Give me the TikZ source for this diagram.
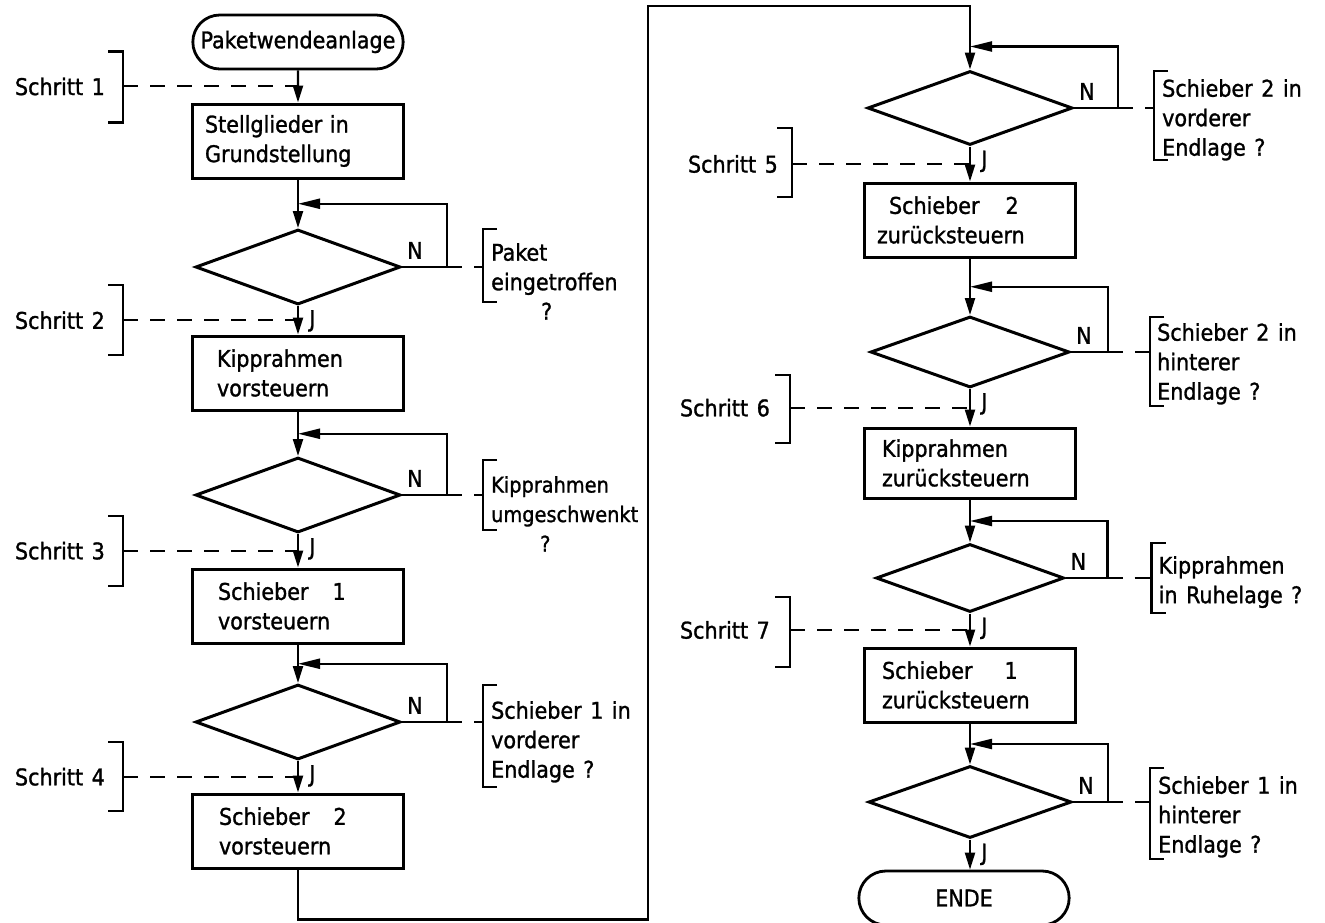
\documentclass[tikz,border=0pt]{standalone}
\usepackage{fontspec}
\setmainfont{DejaVu Sans Condensed}[WordSpace=1.3, FakeBold=1.2]
\usetikzlibrary{arrows.meta, positioning, calc, shapes.geometric, shapes.misc}

\begin{document}
\begin{tikzpicture}[
    x=1pt, y=-1pt,
    font=\fontsize{23}{29.5}\selectfont,
    ablauf/.style={draw, line width=3pt, minimum width=211pt,
                   minimum height=74pt, text width=186pt, align=left},
    grenze/.style={draw, rounded rectangle, line width=2.8pt,
                   minimum width=217pt, minimum height=54pt},
    raute/.style={draw, diamond, line width=3pt, inner sep=0pt,
                  minimum width=205pt, minimum height=75pt},
    pfeil/.style={-{Triangle[length=17pt, width=10pt]}, line width=2.2pt},
    rueck/.style={-{Triangle[length=22pt, width=10pt]}, line width=2.2pt},
    strich/.style={line width=2pt, dash pattern=on 15pt off 12pt},
    klammer/.style={line width=2.2pt},
    frage/.style={anchor=north west, inner sep=0pt, align=left},
    marke/.style={inner sep=0pt}
  ]
    \useasboundingbox (0,0) rectangle (1325,922);

    % linke Spalte
    \node[grenze] (anfang) at (298,42) {Paketwendeanlage};
    \node[ablauf] (stell) at (298,141) {Stellglieder in\\Grundstellung};
    \node[raute] (paket) at (298,267) {};
    \node[ablauf, text width=162pt] (kvor) at (298,373) {Kipprahmen\\vorsteuern};
    \node[raute] (kipp) at (298,495) {};
    \node[ablauf, text width=160pt] (s1vor) at (298,606) {Schieber\hspace{24pt}1\\vorsteuern};
    \node[raute] (s1vorn) at (298,722) {};
    \node[ablauf, text width=158pt] (s2vor) at (298,831) {Schieber\hspace{24pt}2\\vorsteuern};

    % rechte Spalte
    \node[raute, minimum height=74pt] (s2vorn) at (970,108) {};
    \node[ablauf] (s2zur) at (970,220) {\hspace*{12pt}Schieber\hspace{26pt}2\\zurücksteuern};
    \node[raute, minimum width=199pt, minimum height=71pt] (s2hint) at (970,352) {};
    \node[ablauf, text width=176pt, minimum height=70pt] (kzur) at (970,463) {Kipprahmen\\zurücksteuern};
    \node[raute, minimum width=188pt, minimum height=68pt] (ruhe) at (970,578) {};
    \node[ablauf, text width=176pt] (s1zur) at (970,685) {Schieber\hspace{32pt}1\\zurücksteuern};
    \node[raute, minimum width=203pt, minimum height=72pt] (s1hint) at (970,802) {};
    \node[grenze] (ende) at (964,898) {ENDE};

    % Hauptfluss
    \draw[pfeil] (anfang) -- (stell);
    \draw[pfeil] (stell) -- (paket);
    \draw[pfeil] (paket) -- (kvor);
    \draw[pfeil] (kvor) -- (kipp);
    \draw[pfeil] (kipp) -- (s1vor);
    \draw[pfeil] (s1vor) -- (s1vorn);
    \draw[pfeil] (s1vorn) -- (s2vor);
    \coordinate (oben) at (648,6);
    \draw[pfeil] (s2vor.south) -- ++(0,50) -| (oben) -| (s2vorn.north);
    \draw[pfeil] (s2vorn) -- (s2zur);
    \draw[pfeil] (s2zur) -- (s2hint);
    \draw[pfeil] (s2hint) -- (kzur);
    \draw[pfeil] (kzur) -- (ruhe);
    \draw[pfeil] (ruhe) -- (s1zur);
    \draw[pfeil] (s1zur) -- (s1hint);
    \draw[pfeil] (s1hint.south) -- (s1hint.south |- ende.north);

    % Rueckfuehrungen (N)
    \coordinate (k1) at ($(stell.south)!.5!(paket.north)$);
    \coordinate (k2) at ($(kvor.south)!.5!(kipp.north)$);
    \coordinate (k3) at ($(s1vor.south)!.5!(s1vorn.north)$);
    \coordinate (k5) at ($(s2vorn.north)+(0,-23)$);
    \coordinate (k6) at ($(s2zur.south)!.5!(s2hint.north)$);
    \coordinate (k7) at ($(kzur.south)!.5!(ruhe.north)$);
    \coordinate (k8) at ($(s1zur.south)!.5!(s1hint.north)$);
    \draw[rueck] (paket.east) -- ++(45,0) coordinate (e1) |- (k1);
    \draw[rueck] (kipp.east) -- ++(45,0) coordinate (e2) |- (k2);
    \draw[rueck] (s1vorn.east) -- ++(45,0) coordinate (e3) |- (k3);
    \draw[rueck] (s2vorn.east) -- ++(44,0) coordinate (e5) |- (k5);
    \draw[rueck] (s2hint.east) -- ++(37,0) coordinate (e6) |- (k6);
    \draw[rueck] (ruhe.east) -- ++(42,0) coordinate (e7) |- (k7);
    \draw[rueck] (s1hint.east) -- ++(35,0) coordinate (e8) |- (k8);

    % N und J
    \node[marke, above right=8pt and 5pt of paket.east] (n1) {N};
    \node[marke, above right=8pt and 5pt of kipp.east] (n2) {N};
    \node[marke, above right=8pt and 5pt of s1vorn.east] (n3) {N};
    \node[marke, above right=8pt and 5pt of s2vorn.east] (n5) {N};
    \node[marke, above right=8pt and 5pt of s2hint.east] (n6) {N};
    \node[marke, above right=8pt and 5pt of ruhe.east] (n7) {N};
    \node[marke, above right=8pt and 5pt of s1hint.east] (n8) {N};
    \node[marke, below right=4pt and 11pt of paket.south] (j1) {J};
    \node[marke, below right=4pt and 11pt of kipp.south] (j2) {J};
    \node[marke, below right=4pt and 11pt of s1vorn.south] (j3) {J};
    \node[marke, below right=4pt and 11pt of s2vorn.south] (j5) {J};
    \node[marke, below right=4pt and 11pt of s2hint.south] (j6) {J};
    \node[marke, below right=4pt and 11pt of ruhe.south] (j7) {J};
    \node[marke, below right=4pt and 11pt of s1hint.south] (j8) {J};

    % Abfragen
    \draw[strich] (e1) -- ++(36,0) coordinate (q1);
    \draw[strich] (e2) -- ++(36,0) coordinate (q2);
    \draw[strich] (e3) -- ++(36,0) coordinate (q3);
    \draw[strich] (e5) -- ++(36,0) coordinate (q5);
    \draw[strich] (e6) -- ++(42,0) coordinate (q6);
    \draw[strich] (e7) -- ++(44,0) coordinate (q7);
    \draw[strich] (e8) -- ++(42,0) coordinate (q8);
    \draw[klammer] ($(q1)+(14,-38)$) -- ++(-14,0) |- ($(q1)+(14,35)$);
    \draw[klammer] ($(q2)+(14,-35)$) -- ++(-14,0) |- ($(q2)+(14,35)$);
    \draw[klammer] ($(q3)+(14,-37)$) -- ++(-14,0) |- ($(q3)+(14,65)$);
    \draw[klammer] ($(q5)+(14,-37)$) -- ++(-14,0) |- ($(q5)+(14,52)$);
    \draw[klammer] ($(q6)+(14,-35)$) -- ++(-14,0) |- ($(q6)+(14,54)$);
    \draw[klammer] ($(q7)+(14,-35)$) -- ++(-14,0) |- ($(q7)+(14,35)$);
    \draw[klammer] ($(q8)+(14,-34)$) -- ++(-14,0) |- ($(q8)+(14,57)$);
    \node[frage] (f1) at ($(q1)+(8,-24)$) {Paket\\eingetroffen\\\hspace*{50pt}?};
    \node[frage, font=\fontsize{21.5}{29.5}\selectfont] (f2) at ($(q2)+(8,-19)$) {Kipprahmen\\umgeschwenkt\\\hspace*{49pt}?};
    \node[frage] (f3) at ($(q3)+(8,-21)$) {Schieber 1 in\\vorderer\\Endlage ?};
    \node[frage] (f5) at ($(q5)+(8,-29)$) {Schieber 2 in\\vorderer\\Endlage ?};
    \node[frage] (f6) at ($(q6)+(7,-29)$) {Schieber 2 in\\hinterer\\Endlage ?};
    \node[frage] (f7) at ($(q7)+(7,-22)$) {Kipprahmen\\in Ruhelage ?};
    \node[frage] (f8) at ($(q8)+(8,-26)$) {Schieber 1 in\\hinterer\\Endlage ?};

    % Schritte
    \coordinate (m1) at ($(anfang.south)!.5!(stell.north)$);
    \coordinate (m2) at ($(paket.south)!.5!(kvor.north)$);
    \coordinate (m3) at ($(kipp.south)!.5!(s1vor.north)$);
    \coordinate (m4) at ($(s1vorn.south)!.5!(s2vor.north)$);
    \coordinate (m5) at ($(s2vorn.south)!.5!(s2zur.north)$);
    \coordinate (m6) at ($(s2hint.south)!.5!(kzur.north)$);
    \coordinate (m7) at ($(ruhe.south)!.5!(s1zur.north)$);
    \coordinate (s1) at ($(m1)+(-175,0)$);
    \coordinate (s2) at ($(m2)+(-175,0)$);
    \coordinate (s3) at ($(m3)+(-175,0)$);
    \coordinate (s4) at ($(m4)+(-175,0)$);
    \coordinate (s5) at ($(m5)+(-178,0)$);
    \coordinate (s6) at ($(m6)+(-180,0)$);
    \coordinate (s7) at ($(m7)+(-180,0)$);
    \draw[strich] (s1) -- (m1);
    \draw[strich] (s2) -- (m2);
    \draw[strich] (s3) -- (m3);
    \draw[strich] (s4) -- (m4);
    \draw[strich] (s5) -- (m5);
    \draw[strich] (s6) -- (m6);
    \draw[strich] (s7) -- (m7);
    \draw[klammer] ($(s1)+(-15,-35)$) -- ++(15,0) |- ($(s1)+(-15,36)$);
    \draw[klammer] ($(s2)+(-15,-35)$) -- ++(15,0) |- ($(s2)+(-15,35)$);
    \draw[klammer] ($(s3)+(-15,-35)$) -- ++(15,0) |- ($(s3)+(-15,35)$);
    \draw[klammer] ($(s4)+(-15,-35)$) -- ++(15,0) |- ($(s4)+(-15,34)$);
    \draw[klammer] ($(s5)+(-15,-36)$) -- ++(15,0) |- ($(s5)+(-15,33)$);
    \draw[klammer] ($(s6)+(-15,-33)$) -- ++(15,0) |- ($(s6)+(-15,35)$);
    \draw[klammer] ($(s7)+(-15,-33)$) -- ++(15,0) |- ($(s7)+(-15,37)$);
    \node[marke, left=18pt of s1] (t1) {Schritt 1};
    \node[marke, left=18pt of s2] (t2) {Schritt 2};
    \node[marke, left=18pt of s3] (t3) {Schritt 3};
    \node[marke, left=18pt of s4] (t4) {Schritt 4};
    \node[marke, left=14pt of s5] (t5) {Schritt 5};
    \node[marke, left=20pt of s6] (t6) {Schritt 6};
    \node[marke, left=20pt of s7] (t7) {Schritt 7};
\end{tikzpicture}
\end{document}
